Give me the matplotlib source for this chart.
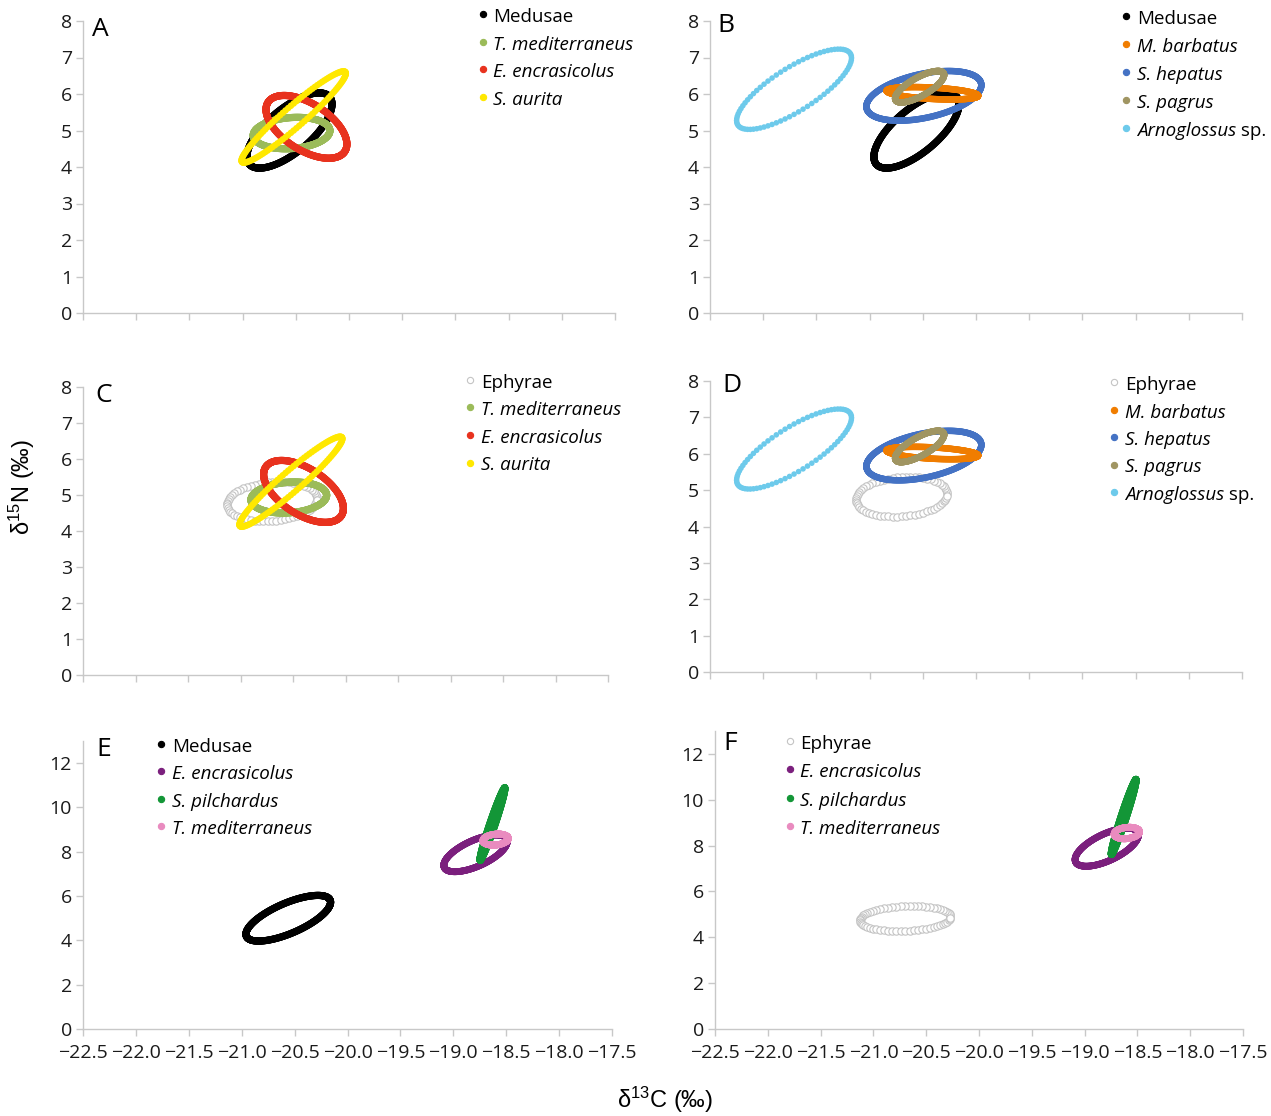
import numpy as np
import matplotlib
matplotlib.use("Agg")
import matplotlib.pyplot as plt
from matplotlib.lines import Line2D

plt.rcParams["font.family"] = ["Open Sans", "DejaVu Sans"]

# ---- standard ellipse parameters ----
# centre, spread along each axis, correlation
ELL_NAMES = ["medusae", "ephyrae", "tmed_1", "encr_1", "aurita",
             "barbatus", "hepatus", "pagrus", "arnoglossus",
             "encr_2", "pilchardus", "tmed_2"]
CENTER_X = [-20.56, -20.70, -20.54, -20.40, -20.52,
            -20.41, -20.49, -20.53, -21.71,
            -18.79, -18.63, -18.60]
CENTER_Y = [5.00, 4.82, 4.93, 5.10, 5.37,
            6.02, 5.95, 6.20, 6.13,
            7.93, 9.25, 8.55]
SPREAD_X = [0.40, 0.43, 0.36, 0.38, 0.49,
            0.43, 0.54, 0.23, 0.54,
            0.30, 0.12, 0.12]
SPREAD_Y = [1.03, 0.55, 0.43, 0.86, 1.25,
            0.17, 0.68, 0.43, 1.10,
            0.83, 1.65, 0.25]
CORR = [0.70, 0.15, 0.15, -0.55, 0.955,
        -0.40, 0.43, 0.75, 0.78,
        0.65, 0.97, 0.20]

# panel contents (draw order) and legend order
PANEL_A = ["medusae", "tmed_1", "encr_1", "aurita"]
PANEL_B = ["medusae", "hepatus", "barbatus", "pagrus", "arnoglossus"]
PANEL_C = ["ephyrae", "tmed_1", "encr_1", "aurita"]
PANEL_D = ["ephyrae", "hepatus", "barbatus", "pagrus", "arnoglossus"]
PANEL_E = ["medusae", "encr_2", "pilchardus", "tmed_2"]
PANEL_F = ["ephyrae", "encr_2", "pilchardus", "tmed_2"]
LEG_A = ["medusae", "tmed_1", "encr_1", "aurita"]
LEG_B = ["medusae", "barbatus", "hepatus", "pagrus", "arnoglossus"]
LEG_E = ["medusae", "encr_2", "pilchardus", "tmed_2"]
LEG_C = ["ephyrae"] + LEG_A[1:]
LEG_D = ["ephyrae"] + LEG_B[1:]
LEG_F = ["ephyrae"] + LEG_E[1:]

# label, italic part, upright suffix
LABELS = {
    "medusae": ("Medusae", False, ""),
    "ephyrae": ("Ephyrae", False, ""),
    "tmed_1": ("T. mediterraneus", True, ""),
    "tmed_2": ("T. mediterraneus", True, ""),
    "encr_1": ("E. encrasicolus", True, ""),
    "encr_2": ("E. encrasicolus", True, ""),
    "aurita": ("S. aurita", True, ""),
    "barbatus": ("M. barbatus", True, ""),
    "hepatus": ("S. hepatus", True, ""),
    "pagrus": ("S. pagrus", True, ""),
    "arnoglossus": ("Arnoglossus", True, " sp."),
    "pilchardus": ("S. pilchardus", True, ""),
}

# colour, number of dots, dot size, open marker
STYLE = {
    "medusae": ("#000000", 400, 27, False),
    "ephyrae": ("#C4C4C4", 64, 28, True),
    "tmed_1": ("#9BBB59", 400, 27, False),
    "encr_1": ("#E8321E", 400, 27, False),
    "aurita": ("#FFE800", 120, 22, False),
    "barbatus": ("#F07D00", 400, 22, False),
    "hepatus": ("#4472C4", 400, 22, False),
    "pagrus": ("#A09562", 400, 22, False),
    "arnoglossus": ("#6DCAEB", 80, 16, False),
    "encr_2": ("#7B1F7D", 400, 24, False),
    "pilchardus": ("#139637", 400, 22, False),
    "tmed_2": ("#E98BBF", 400, 24, False),
}

W, H = 1271, 1116
fig = plt.figure(figsize=(W / 100, H / 100), dpi=100)
renderer = fig.canvas.get_renderer()


def px_rect(l, r, b, t):
    return [l / W, 1 - b / H, (r - l) / W, (b - t) / H]


def ellipse(name, n):
    i = ELL_NAMES.index(name)
    t = np.linspace(0, 2 * np.pi, n, endpoint=False)
    r = CORR[i]
    x = CENTER_X[i] + SPREAD_X[i] * np.cos(t)
    y = CENTER_Y[i] + SPREAD_Y[i] * (r * np.cos(t) + np.sqrt(1 - r ** 2) * np.sin(t))
    return x, y


panels = [
    ("A", px_rect(83, 615, 313, 21), PANEL_A, LEG_A, 8, (483, 493, 17, 27.7), (100, 30)),
    ("B", px_rect(710, 1242, 313, 21), PANEL_B, LEG_B, 8, (1126, 1137, 19, 28.0), (726, 26)),
    ("C", px_rect(83, 608, 675, 387), PANEL_C, LEG_C, 8, (470, 481, 383, 27.5), (104, 395)),
    ("D", px_rect(710, 1242, 672, 381), PANEL_D, LEG_D, 8, (1114, 1125, 385, 27.5), (732, 385)),
    ("E", px_rect(83, 612, 1029, 741), PANEL_E, LEG_E, 13, (161, 172, 747, 27.3), (104, 750)),
    ("F", px_rect(715, 1243, 1029, 731), PANEL_F, LEG_F, 13, (790, 800, 744, 28.3), (730, 744)),
]

for letter, rect, names, leg, ytop, legpos, letpos in panels:
    ax = fig.add_axes(rect)
    for name in names:
        color, n, s, hollow = STYLE[name]
        x, y = ellipse(name, n)
        if hollow:
            ax.scatter(x, y, s=s, facecolors="white", edgecolors=color,
                       linewidths=0.8, zorder=2)
        else:
            ax.scatter(x, y, s=s, color=color, edgecolors="none", zorder=3)

    ax.set_xlim(-22.5, -17.5)
    ax.set_ylim(0, ytop)
    ax.set_xticks(np.arange(-22.5, -17.4, 0.5))
    if ytop == 8:
        ax.set_yticks(np.arange(0, 8.1, 1))
    else:
        ax.set_yticks(np.arange(0, 12.1, 2))
    for sp in ["top", "right"]:
        ax.spines[sp].set_visible(False)
    for sp in ["left", "bottom"]:
        ax.spines[sp].set_color("#C8C8C8")
        ax.spines[sp].set_linewidth(1.0)
    ax.tick_params(axis="both", direction="out", length=5, width=1,
                   color="#C8C8C8", labelsize=14, labelcolor="#1a1a1a")
    ax.tick_params(axis="y", pad=3)
    ax.tick_params(axis="x", pad=6, labelbottom=(ytop == 13))

    fig.text(letpos[0] / W, 1 - letpos[1] / H, letter, fontsize=19,
             ha="center", va="center")

    mx, tx, y0, dy = legpos
    for k, name in enumerate(leg):
        color, n, s, hollow = STYLE[name]
        yy = 1 - (y0 + k * dy) / H
        fig.add_artist(Line2D([mx / W], [yy + 3 / H], marker="o", ls="",
                              markersize=4.5,
                              markerfacecolor="white" if hollow else color,
                              markeredgecolor=color, markeredgewidth=0.8))
        text, italic, suffix = LABELS[name]
        t = fig.text(tx / W, yy, text, fontsize=13.5, ha="left", va="center",
                     style="italic" if italic else "normal")
        if suffix:
            bb = t.get_window_extent(renderer)
            fig.text(bb.x1 / W, yy, suffix, fontsize=13.5, ha="left", va="center")

fig.text(22 / W, 1 - 487 / H, r"$\mathregular{\delta^{15}}$N (‰)",
         rotation=90, fontsize=17, ha="center", va="center",
         family=["Liberation Sans", "DejaVu Sans"])
fig.text(665 / W, 1 - 1100 / H, r"$\mathregular{\delta^{13}}$C (‰)",
         fontsize=17, ha="center", va="center",
         family=["Liberation Sans", "DejaVu Sans"])

fig.savefig("out.png", dpi=100)
